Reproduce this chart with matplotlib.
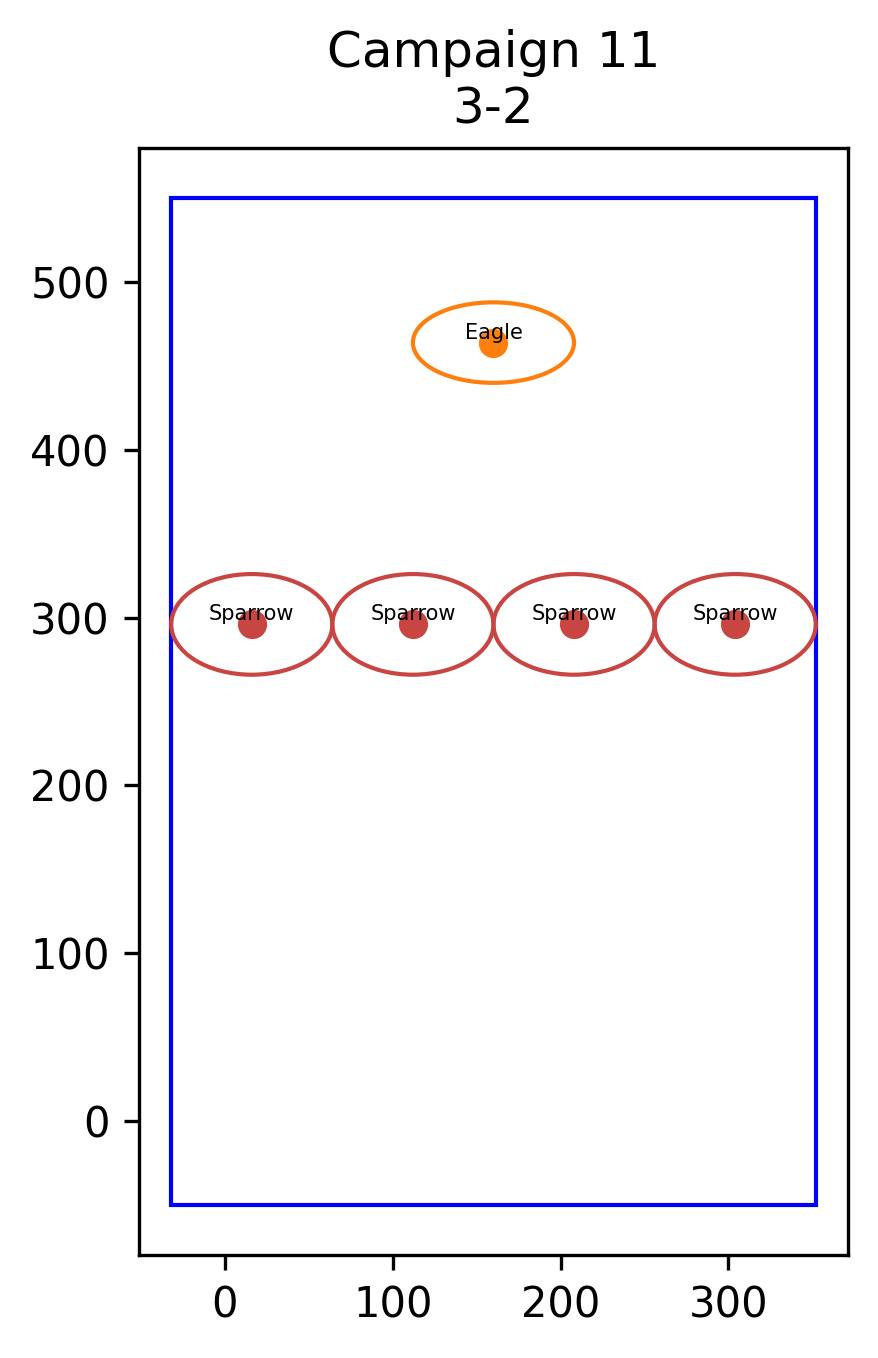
import matplotlib
matplotlib.use("Agg")
import matplotlib.pyplot as plt
from matplotlib.patches import Ellipse, Rectangle

# Units: name, x, y, ellipse width, ellipse height, colour
names = ["Sparrow", "Sparrow", "Sparrow", "Sparrow", "Eagle"]
xs = [16, 112, 208, 304, 160]
ys = [296, 296, 296, 296, 464]
widths = [96, 96, 96, 96, 96]
heights = [60, 60, 60, 60, 48]
colors = ["#c94541", "#c94541", "#c94541", "#c94541", "#ff7f0e"]

# Field boundary
field_x = [-32, 352]
field_y = [-50, 550]

fig = plt.figure(figsize=(878 / 300, 1358 / 300), dpi=300)
ax = fig.add_axes([0.1583, 0.0758, 0.8075, 0.8152])

ax.add_patch(Rectangle((field_x[0], field_y[0]), field_x[1] - field_x[0],
                       field_y[1] - field_y[0], fill=False, edgecolor="blue", lw=1.0))
ax.update_datalim([(field_x[0], field_y[0]), (field_x[1], field_y[1])])

for n, x, y, w, h, c in zip(names, xs, ys, widths, heights, colors):
    ax.add_patch(Ellipse((x, y), w, h, fill=False, edgecolor=c, lw=1.0))
    ax.scatter([x], [y], color=c, s=36, zorder=3)
    ax.text(x, y, n, fontsize=5, ha="center", va="bottom", zorder=4)

ax.autoscale_view()
ax.set_xticks([0, 100, 200, 300])
ax.set_yticks([0, 100, 200, 300, 400, 500])
ax.set_title("Campaign 11\n3-2", fontsize=12)

fig.savefig("out.png", dpi=300)
